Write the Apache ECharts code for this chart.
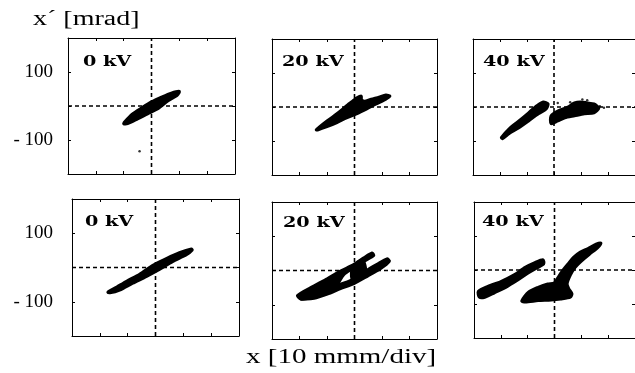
<!DOCTYPE html>
<html><head><meta charset="utf-8">
<script src="https://cdn.jsdelivr.net/npm/echarts@6/dist/echarts.min.js"></script>
<style>html,body{margin:0;padding:0;background:#fff}#c{width:635px;height:373px}</style>
</head><body><div id="c"></div>
<script>
// ---- axis ranges / tick labels ----
const xMin = -3, xMax = 3, xStep = 1;          // divisions
const yMin = -200, yMax = 200, yStep = 100;    // mrad
const yTickValues = [100, -100];
const yTickLabels = ['100', '- 100'];
const panelLabels = ['0 kV', '20 kV', '40 kV', '0 kV', '20 kV', '40 kV'];
const yAxisTitle = 'x\u00b4 [mrad]';
const xAxisTitle = 'x [10 mmm/div]';

// ---- phase-space distributions (outline vertices: [x div, x' mrad]) ----
const blobTop0kV = [[-1.0,-52],[-0.96,-46],[-0.68,-23],[-0.36,-6],[0,12],[0.36,26],[0.71,38],[1.0,43],[0.93,32],[0.57,14],[0.21,-9],[-0.14,-23],[-0.5,-38],[-0.86,-52]];
const strayTop0kV = [[-0.43,-133]];
const blobTop20kV = [[-1.39,-67],[-1.0,-41],[-0.64,-20],[-0.43,-6],[-0.25,6],[-0.07,17],[0.07,26],[0.25,32],[0.25,23],[0.36,17],[0.61,23],[0.89,29],[1.14,35],[1.29,32],[1.14,23],[0.79,9],[0.43,-6],[0.07,-20],[-0.29,-32],[-0.64,-46],[-1.0,-58],[-1.32,-67]];
const blobTop40kVLeft = [[-1.95,-90],[-1.66,-64],[-1.30,-41],[-0.94,-17],[-0.65,3],[-0.40,15],[-0.22,9],[-0.29,-6],[-0.58,-20],[-0.94,-41],[-1.30,-61],[-1.66,-78],[-1.91,-93]];
const blobTop40kVRight = [[-0.11,-49],[-0.11,-26],[0.14,-12],[0.51,0],[0.76,12],[0.97,15],[1.23,12],[1.48,9],[1.66,-3],[1.48,-17],[1.12,-20],[0.76,-26],[0.40,-32],[0.14,-41]];
const strayTop40kV = [[1.23,20],[1.48,3],[0.14,12],[1.7,2],[0.6,14],[1.05,22],[1.85,-2]];
const blobBot0kV = [[-1.71,-72],[-1.39,-57],[-1.04,-40],[-0.57,-20],[-0.11,6],[0.39,26],[0.86,43],[1.29,54],[1.32,51],[1.11,37],[0.61,17],[0.14,-6],[-0.32,-26],[-0.82,-46],[-1.29,-66],[-1.64,-74]];
const blobBot20kVUpper = [[-2.07,-73],[-1.59,-50],[-0.99,-24],[-0.51,-2],[-0.02,18],[0.34,37],[0.64,51],[0.70,44],[0.34,27],[-0.02,8],[-0.39,-12],[-0.63,-41],[-0.99,-60],[-1.47,-77],[-1.95,-83]];
const blobBot20kVLower = [[-1.47,-63],[-0.75,-46],[-0.26,-33],[0.10,-20],[0.46,1],[0.82,18],[1.18,34],[1.27,27],[0.94,5],[0.46,-17],[-0.02,-38],[-0.51,-53],[-0.99,-69],[-1.47,-81],[-1.95,-83]];
const blobBot20kVBridge = [[-0.07,10],[0.3,30],[0.4,-5],[0.05,-25],[-0.1,-22]];
const blobBot40kVLeft = [[-2.84,-63],[-2.48,-48],[-2.00,-34],[-1.52,-15],[-1.09,8],[-0.73,22],[-0.43,30],[-0.40,18],[-0.68,5],[-1.04,-12],[-1.40,-31],[-1.82,-51],[-2.24,-67],[-2.60,-80],[-2.80,-80]];
const blobBot40kVRight = [[-1.22,-91],[-0.97,-65],[-0.61,-51],[-0.25,-41],[-0.01,-38],[0.17,-17],[0.35,3],[0.53,20],[0.71,37],[0.95,52],[1.25,63],[1.55,76],[1.73,79],[1.61,66],[1.31,47],[1.01,27],[0.77,8],[0.59,-15],[0.47,-41],[0.53,-55],[0.65,-70],[0.59,-80],[0.23,-85],[-0.13,-88],[-0.61,-90],[-1.09,-94]];

const panelBlobs = [
  [blobTop0kV], [blobTop20kV], [blobTop40kVLeft, blobTop40kVRight],
  [blobBot0kV], [blobBot20kVUpper, blobBot20kVLower, blobBot20kVBridge], [blobBot40kVLeft, blobBot40kVRight]
];
const panelStray = [strayTop0kV, [], strayTop40kV, [], [], []];

// ---- layout ----
const grids = [
  {left:68, top:38, width:167, height:136},
  {left:272, top:39, width:165, height:136},
  {left:473, top:39, width:166, height:136},
  {left:72, top:199, width:167, height:137},
  {left:272, top:202, width:165, height:137},
  {left:474, top:202, width:166, height:136}
];
const labelPos = [[83,62],[282,62],[483,62],[85,222],[283,223],[482,222]];

const serif = '"Liberation Serif", "DejaVu Serif", serif';
const xAxes = [], yAxes = [], series = [];
grids.forEach((g, i) => {
  const base = {
    type:'value', gridIndex:i, splitLine:{show:false},
    axisLine:{show:true, onZero:false, lineStyle:{color:'#000', width:1}},
    axisTick:{show:true, inside:true, length:3, lineStyle:{color:'#000', width:1}},
    axisLabel:{show:false}
  };
  xAxes.push(Object.assign({}, base, {position:'bottom', min:xMin, max:xMax, interval:xStep}));
  xAxes.push(Object.assign({}, base, {position:'top', min:xMin, max:xMax, interval:xStep}));
  const yl = Object.assign({}, base, {position:'left', min:yMin, max:yMax, interval:yStep});
  if (i === 0 || i === 3) {
    yl.axisLabel = {
      show:true, color:'#000', fontFamily:serif, fontSize:19, margin:(i===0?15:19),
      formatter: v => { const k = yTickValues.indexOf(v); return k >= 0 ? yTickLabels[k] : ''; }
    };
  }
  yAxes.push(yl);
  yAxes.push(Object.assign({}, base, {position:'right', min:yMin, max:yMax, interval:yStep}));

  // dashed crosshair at x=0 and x'=0
  const dash = {type:'line', xAxisIndex:2*i, yAxisIndex:2*i, symbol:'none', silent:true, z:1,
    lineStyle:{color:'#000', width:1.6, type:[4,3]}};
  series.push(Object.assign({}, dash, {data:[[xMin,0],[xMax,0]]}));
  series.push(Object.assign({}, dash, {data:[[0,yMin],[0,yMax]]}));

  panelBlobs[i].forEach(pts => {
    series.push({
      type:'custom', xAxisIndex:2*i, yAxisIndex:2*i, data:pts, silent:true, z:3,
      renderItem:(params, api) => {
        if (params.dataIndex !== 0) return;
        return {type:'polygon', shape:{points:pts.map(p => api.coord(p)), smooth:0.25},
          style:{fill:'#000', stroke:'#000', lineWidth:3, lineJoin:'round'}};
      }
    });
  });
  if (panelStray[i].length) {
    series.push({type:'scatter', xAxisIndex:2*i, yAxisIndex:2*i, data:panelStray[i],
      symbolSize:2.5, itemStyle:{color:'#000'}, silent:true, z:3});
  }
});

const graphic = [
  {type:'text', x:33, y:20, scaleX:1.4, style:{text:yAxisTitle, fontFamily:serif, fontSize:20, fill:'#000', align:'left', verticalAlign:'middle'}},
  {type:'text', x:246, y:358, scaleX:1.45, style:{text:xAxisTitle, fontFamily:serif, fontSize:20, fill:'#000', align:'left', verticalAlign:'middle'}}
];
panelLabels.forEach((t, i) => {
  graphic.push({type:'text', x:labelPos[i][0], y:labelPos[i][1], scaleX:1.28,
    style:{text:t, fontFamily:'"DejaVu Serif", serif', fontWeight:'bold', fontSize:15, fill:'#000', align:'left', verticalAlign:'middle'}});
});

const chart = echarts.init(document.getElementById('c'), null, {renderer:'canvas'});
chart.setOption({
  animation:false, backgroundColor:'#fff',
  grid:grids, xAxis:xAxes, yAxis:yAxes, series:series, graphic:graphic
});
</script></body></html>
